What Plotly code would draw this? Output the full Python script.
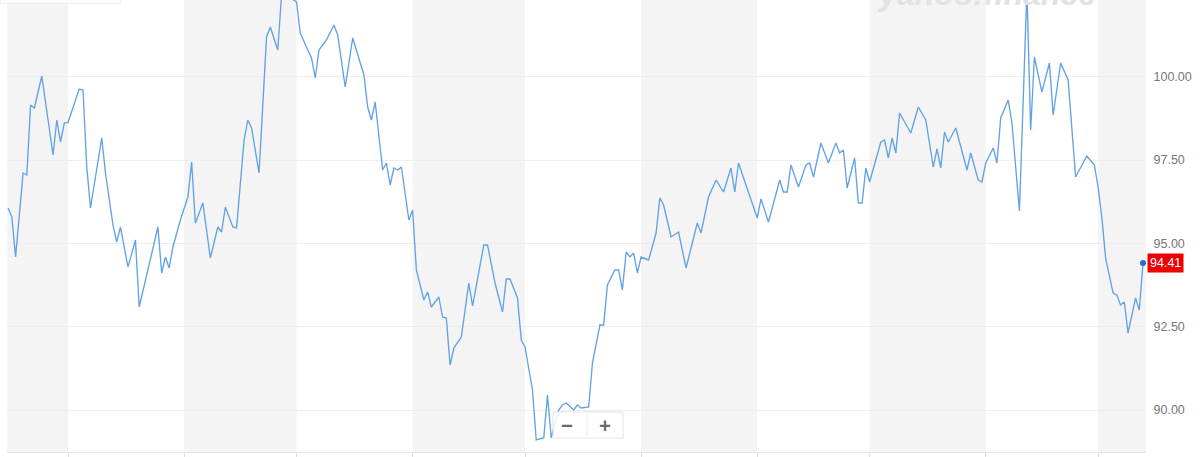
import pandas as pd
import plotly.graph_objects as go

# ---- data ----
base_date = "2019-03-01"
day_offsets = [
    -16, -15, -14, -12, -11, -10, -9, -7, -4, -3,
    -2, -1, 0, 3, 4, 5, 6, 9, 10, 12,
    13, 14, 16, 18, 19, 24, 25, 26, 27, 28,
    30, 32, 33, 34, 36, 38, 40, 41, 42, 44,
    45, 47, 48, 49, 51, 53, 54, 56, 57, 59,
    61, 62, 64, 65, 66, 67, 69, 71, 72, 74,
    76, 79, 80, 81, 82, 84, 85, 86, 87, 88,
    89, 91, 92, 93, 95, 96, 97, 99, 100, 101,
    102, 103, 105, 107, 108, 111, 112, 114, 116, 117,
    118, 120, 121, 122, 124, 125, 127, 128, 129, 131,
    132, 133, 135, 136, 137, 139, 140, 142, 143, 144,
    146, 147, 148, 149, 150, 151, 152, 153, 155, 156,
    157, 158, 159, 161, 163, 165, 167, 168, 169, 171,
    173, 175, 177, 178, 179, 182, 184, 185, 187, 190,
    191, 192, 193, 195, 197, 198, 199, 201, 203, 205,
    206, 207, 208, 210, 211, 212, 213, 214, 217, 218,
    219, 220, 221, 222, 225, 227, 229, 231, 232, 233,
    234, 235, 237, 240, 241, 243, 244, 245, 247, 248,
    249, 251, 252, 254, 256, 257, 258, 260, 262, 263,
    265, 267, 269, 272, 274, 275, 276, 277, 279, 280,
    281, 282, 283, 285, 286, 287,
]
prices = [
    96.06, 95.79, 94.59, 97.11, 97.05, 99.15, 99.06, 100.02, 97.65, 98.70,
    98.04, 98.61, 98.63, 99.63, 99.60, 97.29, 96.06, 98.16, 97.11, 95.55,
    95.04, 95.49, 94.29, 95.10, 93.09, 95.49, 94.11, 94.59, 94.26, 94.89,
    95.70, 96.39, 97.44, 95.61, 96.21, 94.56, 95.49, 95.34, 96.09, 95.49,
    95.46, 98.10, 98.70, 98.46, 97.11, 101.19, 101.49, 100.80, 102.45, 102.40,
    102.24, 101.31, 100.80, 100.56, 99.96, 100.80, 101.10, 101.55, 101.25, 99.69,
    101.16, 100.05, 99.09, 98.70, 99.24, 97.20, 97.41, 96.75, 97.26, 97.20,
    97.29, 95.70, 96.00, 94.20, 93.30, 93.54, 93.09, 93.39, 92.79, 92.76,
    91.35, 91.86, 92.19, 93.81, 93.12, 94.95, 94.95, 93.81, 92.94, 93.93,
    93.93, 93.36, 92.10, 91.89, 90.60, 89.10, 89.16, 90.45, 89.16, 90.00,
    90.15, 90.21, 90.00, 90.15, 90.06, 90.09, 91.41, 92.55, 92.55, 93.75,
    94.20, 94.20, 93.60, 94.74, 94.59, 94.71, 94.11, 94.59, 94.50, 94.89,
    95.31, 96.36, 96.15, 95.19, 95.34, 94.26, 95.19, 95.61, 95.31, 96.39,
    96.90, 96.54, 97.26, 96.54, 97.41, 96.39, 95.76, 96.33, 95.64, 96.90,
    96.54, 96.54, 97.35, 96.69, 97.35, 97.41, 96.99, 98.01, 97.41, 98.01,
    97.71, 97.80, 96.66, 97.56, 96.21, 96.21, 97.26, 96.84, 98.04, 98.10,
    97.56, 98.16, 97.71, 98.91, 98.31, 99.09, 98.70, 97.29, 97.83, 97.26,
    98.34, 98.04, 98.46, 97.20, 97.71, 96.90, 96.84, 97.41, 97.86, 97.41,
    98.76, 99.30, 98.61, 95.97, 102.60, 98.40, 100.59, 99.54, 100.41, 98.85,
    100.41, 99.90, 96.99, 97.62, 97.35, 96.69, 95.79, 94.56, 93.51, 93.45,
    93.15, 93.24, 92.31, 93.36, 93.00, 94.41,
]
month_starts = ["2019-03-01", "2019-04-01", "2019-05-01", "2019-06-01", "2019-07-01",
                "2019-08-01", "2019-09-01", "2019-10-01", "2019-11-01", "2019-12-01"]
shaded_months = [("2019-02-01", "2019-03-01"), ("2019-04-01", "2019-05-01"),
                 ("2019-06-01", "2019-07-01"), ("2019-08-01", "2019-09-01"),
                 ("2019-10-01", "2019-11-01"), ("2019-12-01", "2020-01-01")]
y_ticks = [90.0, 92.5, 95.0, 97.5, 100.0, 102.5]
last_label = "94.41"

dates = pd.Timestamp(base_date) + pd.to_timedelta(day_offsets, unit="D")

x_range = ["2019-02-12 17:00", "2019-12-13 19:00"]
y_range = [88.74, 102.30]

fig = go.Figure()
fig.add_trace(go.Scatter(x=dates, y=prices, mode="lines",
                         line=dict(color="#62a2e5", width=1.35), hoverinfo="skip",
                         showlegend=False))
fig.add_trace(go.Scatter(x=[dates[-1]], y=[prices[-1]], mode="markers",
                         marker=dict(color="#1f6fd6", size=6), showlegend=False,
                         hoverinfo="skip", cliponaxis=False))

shapes = []
for a, b in shaded_months:
    shapes.append(dict(type="rect", xref="x", yref="paper", x0=a, x1=b, y0=0, y1=1,
                       fillcolor="#f4f4f4", line=dict(width=0), layer="below"))

# zoom control box
shapes.append(dict(type="rect", xref="paper", yref="paper", x0=0.4794, x1=0.5408,
                   y0=0.031, y1=0.0885, fillcolor="rgba(255,255,255,0.85)",
                   line=dict(color="#e4e4e4", width=1), layer="above"))
shapes.append(dict(type="line", xref="paper", yref="paper", x0=0.5092, x1=0.5092,
                   y0=0.035, y1=0.084, line=dict(color="#eeeeee", width=1)))
# legend remnant at top-left
shapes.append(dict(type="rect", xref="paper", yref="paper", x0=-0.006, x1=0.1,
                   y0=0.993, y1=1.05, fillcolor="rgba(255,255,255,0.9)",
                   line=dict(color="#ececec", width=1), layer="above"))

annotations = [
    dict(x=0.4917, y=0.0597, xref="paper", yref="paper", xanchor="center",
         yanchor="middle", text="<b>\u2212</b>",
         showarrow=False, font=dict(size=21, color="#6a6a6a")),
    dict(x=0.525, y=0.0597, xref="paper", yref="paper", xanchor="center",
         yanchor="middle", text="<b>+</b>",
         showarrow=False, font=dict(size=21, color="#6a6a6a")),
    dict(x=0.86, y=1, xref="paper", yref="paper", xanchor="center", yanchor="bottom",
         yshift=-14, text="<b><i>yahoo!finance</i></b>", showarrow=False,
         font=dict(size=32, color="#e2e2e2", family="Liberation Sans")),
    dict(x=1, y=prices[-1], xref="paper", yref="y", xanchor="left", yanchor="middle",
         xshift=1, text=last_label, showarrow=False, bgcolor="#ee0000", borderpad=2,
         font=dict(size=12.5, color="#ffffff", family="Liberation Sans")),
    dict(x=1, y=y_ticks[-1], xref="paper", yref="y", xanchor="left", yanchor="middle",
         xshift=6, text="102.50", showarrow=False,
         font=dict(size=12.5, color="#777777", family="Liberation Sans")),
]

fig.update_layout(
    width=1200, height=457,
    margin=dict(l=7, r=54, t=0, b=5),
    paper_bgcolor="white", plot_bgcolor="white",
    shapes=shapes, annotations=annotations,
    xaxis=dict(type="date", range=x_range, showgrid=False, zeroline=False,
               showline=True, linecolor="#e6e6e6", linewidth=1,
               tickvals=month_starts, ticks="outside", ticklen=5, tickcolor="#dddddd",
               showticklabels=False, fixedrange=True),
    yaxis=dict(side="right", range=y_range, tickvals=y_ticks, tickformat=".2f",
               showgrid=True, gridcolor="#eeeeee", gridwidth=1, zeroline=False,
               ticks="outside", ticklen=4, tickcolor="rgba(0,0,0,0)",
               tickfont=dict(size=12.5, color="#777777", family="Liberation Sans"),
               showline=False, fixedrange=True),
    showlegend=False,
)

fig.write_html("out.html", config={"displayModeBar": False},
               post_script="document.body.style.margin='0px';")
